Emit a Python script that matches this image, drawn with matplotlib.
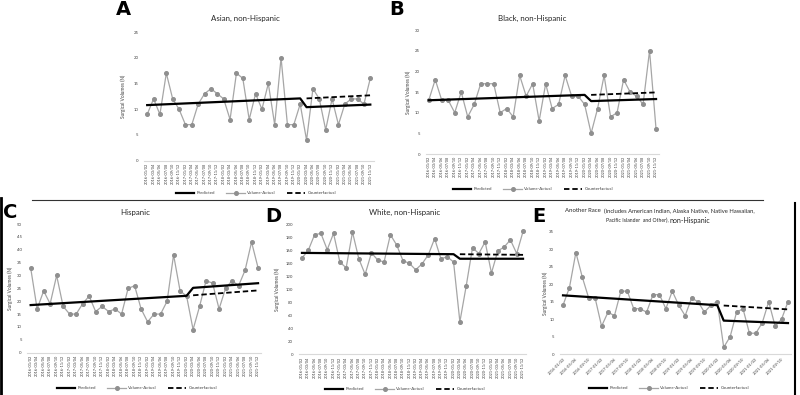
import matplotlib
matplotlib.use('Agg')
import matplotlib.pyplot as plt
from matplotlib.lines import Line2D

plt.rcParams['font.family'] = ['Lato', 'DejaVu Sans']

periods = [
    '2016-01/02', '2016-03/04', '2016-05/06', '2016-07/08', '2016-09/10', '2016-11/12',
    '2017-01/02', '2017-03/04', '2017-05/06', '2017-07/08', '2017-09/10', '2017-11/12',
    '2018-01/02', '2018-03/04', '2018-05/06', '2018-07/08', '2018-09/10', '2018-11/12',
    '2019-01/02', '2019-03/04', '2019-05/06', '2019-07/08', '2019-09/10', '2019-11/12',
    '2020-01/02', '2020-03/04', '2020-05/06', '2020-07/08', '2020-09/10', '2020-11/12',
    '2021-01/02', '2021-03/04', '2021-05/06', '2021-07/08', '2021-09/10', '2021-11/12',
]

asian_actual = [9, 12, 9, 17, 12, 10, 7, 7, 11, 13, 14, 13, 12, 8, 17, 16, 8, 13,
                10, 15, 7, 20, 7, 7, 11, 4, 14, 12, 6, 12, 7, 11, 12, 12, 11, 16]
black_actual = [13, 18, 13, 13, 10, 15, 9, 12, 17, 17, 17, 10, 11, 9, 19, 14, 17, 8,
                17, 11, 12, 19, 14, 14, 12, 5, 11, 19, 9, 10, 18, 15, 14, 12, 25, 6]
hisp_actual = [33, 17, 24, 19, 30, 18, 15, 15, 19, 22, 16, 18, 16, 17, 15, 25, 26, 17,
               12, 15, 15, 20, 38, 24, 22, 9, 18, 28, 27, 17, 25, 28, 26, 32, 43, 33]
white_actual = [148, 160, 184, 186, 161, 186, 142, 133, 188, 147, 123, 156, 145, 142, 184, 168, 144, 140,
                130, 139, 153, 178, 147, 150, 142, 50, 105, 164, 155, 173, 125, 159, 165, 176, 155, 189]
other_actual = [14, 19, 29, 22, 16, 16, 8, 12, 11, 18, 18, 13, 13, 12, 17, 17, 13, 18,
                14, 11, 16, 15, 12, 14, 15, 2, 5, 12, 13, 6, 6, 9, 15, 8, 10, 15]

# predicted segments: values at period index 0, 24 (pre) and 25, 35 (post)
pred_idx = [0, 24, 25, 35]
cf_idx = [25, 35]
asian_pred = [10.8, 12.1, 10.4, 10.9]
asian_cf = [12.1, 12.7]
black_pred = [13.0, 14.3, 12.8, 13.3]
black_cf = [14.3, 14.9]
hisp_pred = [18.5, 22.1, 25.2, 27.0]
hisp_cf = [22.3, 24.2]
white_pred = [156, 154, 147, 147]
white_cf = [154, 153]
other_pred = [16.8, 14.0, 9.6, 8.9]
other_cf = [13.9, 12.8]

W, H = 800, 395
fig = plt.figure(figsize=(8, 3.95), dpi=100)

GRAY = '#A6A6A6'
MGRAY = '#8F8F8F'
TXT = '#404040'


def fx(x):
    return x / W


def fy(y):
    return 1 - y / H


def panel(box, actual, pred, cf, ymax, ystep, title, title_xy, title_size, letter, letter_xy,
          ylab_x, legend_xy, rotated=True):
    x0, x1, ytop, ybot = box
    ax = fig.add_axes([fx(x0), fy(ybot), (x1 - x0) / W, (ybot - ytop) / H])
    xs = list(range(len(periods)))
    ax.plot(xs, actual, color=GRAY, lw=0.9, marker='o', ms=2.6,
            mfc=MGRAY, mec=MGRAY, zorder=2)
    ax.plot(pred_idx, pred, color='black', lw=1.6, zorder=3)
    ax.plot(cf_idx, cf, color='black', lw=1.3, ls=(0, (3, 1.6)), zorder=3)
    ax.set_xlim(-0.5, len(periods) - 0.5)
    ax.set_ylim(0, ymax)
    ax.set_yticks(range(0, ymax + 1, ystep))
    ax.tick_params(axis='y', length=0, pad=4, labelsize=3.1, labelcolor=TXT)
    for s in ['top', 'right', 'left']:
        ax.spines[s].set_visible(False)
    ax.spines['bottom'].set_color('#D9D9D9')
    ax.spines['bottom'].set_linewidth(0.8)
    if rotated:
        ax.set_xticks(xs)
        ax.set_xticklabels(periods, rotation=90, fontsize=2.8, color=TXT)
        ax.tick_params(axis='x', length=0, pad=1.5)
    else:
        ax.set_xticks(xs[::2])
        ax.set_xticklabels(periods[::2], rotation=45, ha='right', va='top',
                           rotation_mode='anchor', fontsize=3.0, color=TXT)
        ax.tick_params(axis='x', length=0, pad=2)
    if title is not None:
        fig.text(fx(title_xy[0]), fy(title_xy[1]), title, ha='center', va='center',
                 fontsize=title_size, color='#262626')
    fig.text(fx(letter_xy[0]), fy(letter_xy[1]), letter, ha='left', va='baseline',
             fontsize=14, fontweight='bold', color='black',
             family=['DejaVu Sans'])
    fig.text(fx(ylab_x), fy((ytop + ybot) / 2), 'Surgical Volumes (N)', rotation=90,
             ha='center', va='center', fontsize=3.4, color=TXT)
    handles = [
        Line2D([], [], color='black', lw=1.6),
        Line2D([], [], color=GRAY, lw=0.9, marker='o', ms=2.6, mfc=MGRAY, mec=MGRAY),
        Line2D([], [], color='black', lw=1.3, ls=(0, (3, 1.6))),
    ]
    fig.legend(handles, ['Predicted', 'Volume-Actual', 'Counterfactual'],
               loc='center', bbox_to_anchor=(fx(legend_xy[0]), fy(legend_xy[1])),
               ncol=3, frameon=False, fontsize=3.2, handlelength=4.2,
               columnspacing=2.5, handletextpad=0.5, labelcolor=TXT)
    return ax


panel((144, 373.5, 32, 160.7), asian_actual, asian_pred, asian_cf, 25, 5,
      'Asian, non-Hispanic', (245.7, 18), 5.7, 'A', (116, 15), 123, (256, 193))
panel((425.5, 659.3, 30, 154), black_actual, black_pred, black_cf, 30, 5,
      'Black, non-Hispanic', (531.7, 18), 5.7, 'B', (389, 15), 408, (533, 189))
panel((27.4, 261.3, 224, 352.7), hisp_actual, hisp_pred, hisp_cf, 50, 5,
      'Hispanic', (135, 212), 5.7, 'C', (3, 218), 10, (137, 388))
panel((298.8, 526.2, 224.3, 354.3), white_actual, white_pred, white_cf, 200, 20,
      'White, non-Hispanic', (405, 212), 5.7, 'D', (265, 222), 277, (405, 389))
panel((559.8, 791.2, 231.5, 354.3), other_actual, other_pred, other_cf, 35, 5,
      None, None, 5.7, 'E', (532, 222), 545, (669, 388), rotated=False)

# two-line mixed-size title of panel E
fig.text(fx(565), fy(211), 'Another Race', ha='left', va='center', fontsize=4.3, color='#262626')
fig.text(fx(604), fy(211.5), '(includes American Indian, Alaska Native, Native Hawaiian,',
         ha='left', va='center', fontsize=4.2, color='#262626')
fig.text(fx(606), fy(220.5), 'Pacific Islander  and Other),', ha='left', va='center',
         fontsize=3.7, color='#262626')
fig.text(fx(670), fy(220.5), 'non-Hispanic', ha='left', va='center', fontsize=5.0, color='#262626')

# frame lines of the composite figure
fig.add_artist(Line2D([fx(32), fx(763)], [fy(200), fy(200)], color='#333333', lw=0.8,
                      transform=fig.transFigure))
fig.add_artist(Line2D([fx(795), fx(795)], [fy(203), fy(395)], color='black', lw=1.5,
                      transform=fig.transFigure))
fig.add_artist(Line2D([fx(1), fx(1)], [fy(198), fy(395)], color='black', lw=2,
                      transform=fig.transFigure))

fig.savefig('out.png', dpi=100, facecolor='white')
